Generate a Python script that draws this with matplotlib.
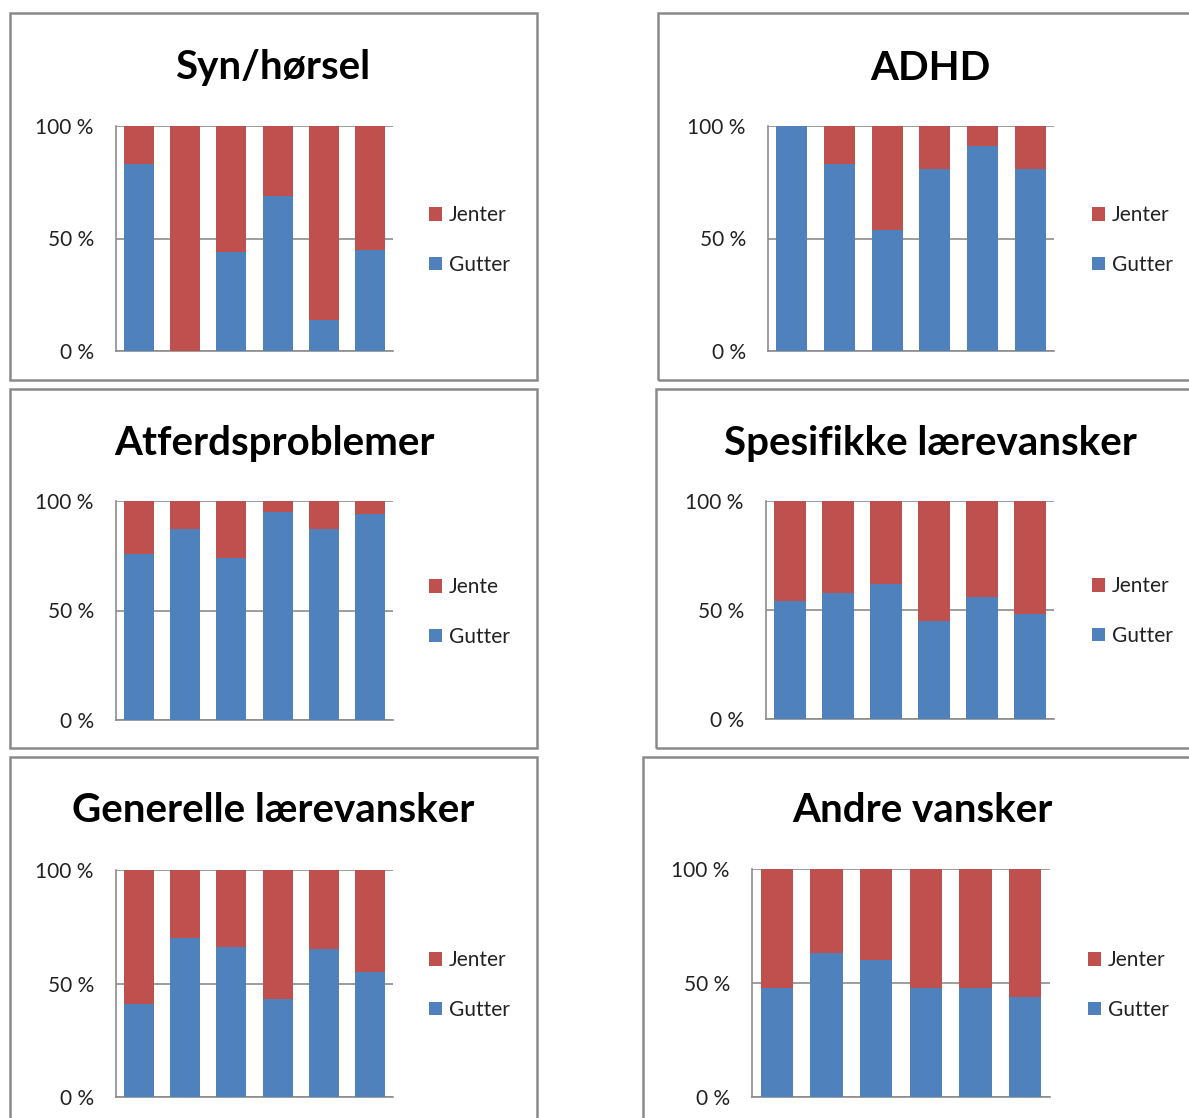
import matplotlib
matplotlib.use('Agg')
import matplotlib.pyplot as plt
from matplotlib.patches import Rectangle

plt.rcParams['font.family'] = ['Lato', 'DejaVu Sans']

# ========== data (Gutter / Jenter share, %) ==========
titles = ['Syn/hørsel', 'ADHD', 'Atferdsproblemer',
          'Spesifikke lærevansker', 'Generelle lærevansker', 'Andre vansker']
girl_labels = ['Jenter', 'Jenter', 'Jente', 'Jenter', 'Jenter', 'Jenter']

gutter_syn = [83, 0, 44, 69, 14, 45]
jenter_syn = [17, 100, 56, 31, 86, 55]
gutter_adhd = [100, 83, 54, 81, 91, 81]
jenter_adhd = [0, 17, 46, 19, 9, 19]
gutter_atferd = [76, 87, 74, 95, 87, 94]
jenter_atferd = [24, 13, 26, 5, 13, 6]
gutter_spes = [54, 58, 62, 45, 56, 48]
jenter_spes = [46, 42, 38, 55, 44, 52]
gutter_gen = [41, 70, 66, 43, 65, 55]
jenter_gen = [59, 30, 34, 57, 35, 45]
gutter_andre = [48, 63, 60, 48, 48, 44]
jenter_andre = [52, 37, 40, 52, 52, 56]

gutter = [gutter_syn, gutter_adhd, gutter_atferd, gutter_spes, gutter_gen, gutter_andre]
jenter = [jenter_syn, jenter_adhd, jenter_atferd, jenter_spes, jenter_gen, jenter_andre]

BLUE = '#4F81BD'
RED = '#C0504D'
GRID = '#8C8C8C'

W, H = 1189, 1118
fig = plt.figure(figsize=(W / 100, H / 100), dpi=100)

# pixel layout: frame box, plot area, title centre, legend anchor
boxes = [(10, 13, 537, 380), (658, 13, 1200, 380),
         (10, 389, 537, 748), (656, 389, 1200, 748),
         (10, 757, 537, 1130), (643, 757, 1200, 1130)]
plots = [(116, 126, 393, 351), (768, 126, 1054, 351),
         (116, 501, 393, 720), (766, 501, 1054, 719),
         (116, 870, 393, 1097), (752, 869, 1050, 1097)]
title_pos = [(273, 68), (930, 68), (274, 444), (930, 444), (273, 811), (922, 811)]
legend_pos = [(429, 240), (1092, 240), (429, 612), (1092, 611), (429, 985), (1088, 985)]


def fx(x):
    return x / W


def fy(y):
    return 1 - y / H


for i in range(6):
    bx0, by0, bx1, by1 = boxes[i]
    fig.patches.append(Rectangle((fx(bx0), fy(by1)), fx(bx1) - fx(bx0), fy(by0) - fy(by1),
                                 transform=fig.transFigure, fill=False,
                                 edgecolor='#8A8A8A', linewidth=1.8, zorder=0))

    x0, y0, x1, y1 = plots[i]
    ax = fig.add_axes([fx(x0), fy(y1), fx(x1) - fx(x0), fy(y0) - fy(y1)])
    pos = list(range(len(gutter[i])))
    hb = ax.bar(pos, gutter[i], width=0.65, color=BLUE, zorder=3, label='Gutter')
    hj = ax.bar(pos, jenter[i], width=0.65, bottom=gutter[i], color=RED, zorder=3,
                label=girl_labels[i])

    ax.set_xlim(-0.5, len(pos) - 0.5)
    ax.set_ylim(0, 100)
    ax.set_yticks([0, 50, 100])
    ax.set_yticklabels(['0 %', '50 %', '100 %'], fontsize=15, color='#222222')
    ax.set_xticks([])
    ax.tick_params(axis='y', length=0, pad=16)
    for s in ['top', 'right']:
        ax.spines[s].set_visible(False)
    for s in ['left', 'bottom']:
        ax.spines[s].set_color(GRID)
        ax.spines[s].set_linewidth(1.2)
    ax.yaxis.grid(True, color=GRID, linewidth=1.2, zorder=1)
    ax.set_axisbelow(True)

    tx, ty = title_pos[i]
    fig.text(fx(tx), fy(ty), titles[i], ha='center', va='center',
             fontsize=29, fontweight='bold', color='black')

    lx, ly = legend_pos[i]
    fig.legend([hj, hb], [girl_labels[i], 'Gutter'], loc='center left',
               bbox_to_anchor=(fx(lx), fy(ly)), frameon=False, fontsize=15,
               handlelength=0.6, handleheight=0.6, handletextpad=0.35,
               labelspacing=1.4, borderpad=0, borderaxespad=0,
               labelcolor='#222222')

fig.savefig('out.png', dpi=100)
